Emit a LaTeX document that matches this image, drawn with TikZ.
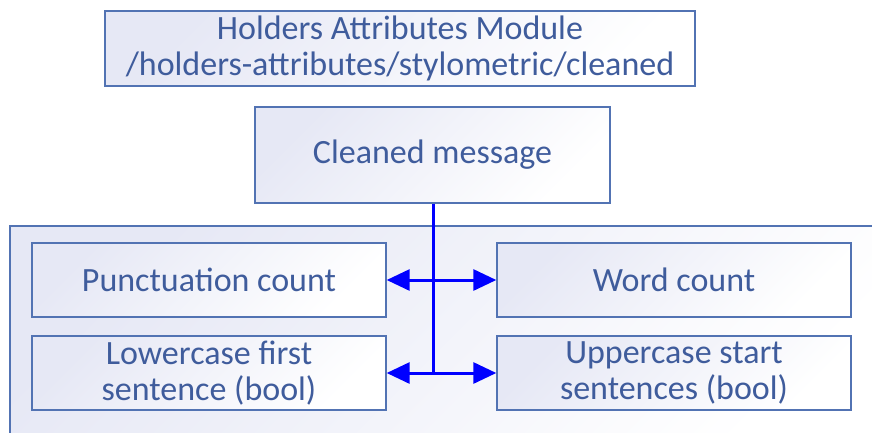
\documentclass[tikz,border=0pt]{standalone}
\usepackage{fontspec}
\setmainfont{Carlito}
\usetikzlibrary{arrows.meta}
\definecolor{boxline}{HTML}{5273B3}
\definecolor{boxtext}{HTML}{3F5C9C}
\definecolor{boxtint}{HTML}{E6E8F5}
\definecolor{linkblue}{HTML}{0000FF}
\tikzset{
  panel/.style={draw=boxline, line width=1.4pt, top color=boxtint, bottom color=white, shading angle=45},
  card/.style={panel, text=boxtext, font=\fontsize{34}{36}\selectfont, align=center, inner sep=0pt},
  link/.style={draw=linkblue, line width=3pt, {Triangle[length=23pt,width=21pt]}-{Triangle[length=23pt,width=21pt]}},
  trunk/.style={draw=linkblue, line width=3pt}
}
\begin{document}
\begin{tikzpicture}[x=1pt,y=-1pt]
  \useasboundingbox (0,0) rectangle (872,432);
  \clip (0,0) rectangle (872,432);
  % outer group panel, running past the right and bottom edges
  \path[panel] (10,226) rectangle (890,450);
  % header and source nodes
  \node[card, minimum width=590pt, minimum height=75pt] (mod) at (400,48.5)
    {Holders Attributes Module\\/holders-attributes/stylometric/cleaned};
  \node[card, minimum width=355pt, minimum height=96pt] (msg) at (432.5,155) {Cleaned message};
  % feature nodes
  \node[card, minimum width=354pt, minimum height=74pt] (punct) at (209,280) {Punctuation count};
  \node[card, minimum width=354pt, minimum height=74pt] (words) at (674,280) {Word count};
  \node[card, minimum width=354pt, minimum height=74pt] (lower) at (209,373) {Lowercase first\\sentence (bool)};
  \node[card, minimum width=354pt, minimum height=74pt] (upper) at (674,373) {Uppercase start\\sentences (bool)};
  % connectors
  \coordinate (hub) at (433,373);
  \draw[trunk] (msg.south -| hub) -- (hub);
  \draw[link] (punct.east) -- (words.west);
  \draw[link] (lower.east) -- (upper.west);
\end{tikzpicture}
\end{document}
